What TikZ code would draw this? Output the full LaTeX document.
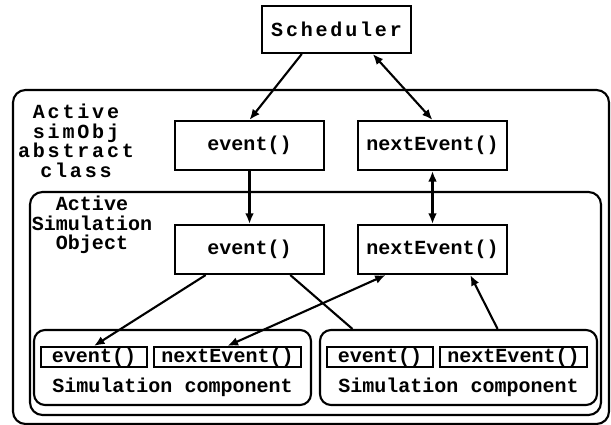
\documentclass[tikz,border=0pt]{standalone}
\usepackage{fontspec}
\setmainfont{Liberation Mono}
\newfontfamily\wideMono{Liberation Mono}[LetterSpace=14]
\usepackage{tikz}
\usetikzlibrary{calc,arrows.meta}

\newcommand{\diagText}{\bfseries\fontsize{11.4}{11.1}\selectfont}
\newcommand{\diagTitle}{\wideMono\bfseries\fontsize{11.4}{11.1}\selectfont}

\tikzset{
 method/.style = {draw, line width=1.2pt, minimum width=2.98cm,
   minimum height=0.98cm, inner sep=0pt, font=\diagText},
 smallMethod/.style = {draw, line width=1.2pt, minimum height=0.4cm,
   inner sep=0pt, font=\diagText},
 compBox/.style = {draw, line width=1.2pt, rounded corners=0.22cm,
   minimum width=5.54cm, minimum height=1.5cm, inner sep=0pt},
 frame/.style = {line width=1.2pt, rounded corners=0.25cm},
 tagText/.style = {align=center, inner sep=0pt, font=\diagText},
 classTag/.style = {align=center, inner sep=0pt, font=\diagTitle},
 call/.style = {line width=1.2pt, -{Latex[length=6pt,width=5pt]}},
 twoway/.style = {line width=1.2pt,
   {Latex[length=6pt,width=5pt]}-{Latex[length=6pt,width=5pt]}}
}

% one simulation component: frame, its two methods and the caption
\newcommand{\simComponent}[2]{
    \node[compBox] (#1) at #2 {};
    \node[smallMethod, minimum width=2.12cm] (#1_ev) at ($#2 + (-1.57, 0.21)$) {event()};
    \node[smallMethod, minimum width=2.93cm] (#1_nx) at ($#2 + (1.10, 0.21)$) {nextEvent()};
    \node[tagText] (#1_cap) at ($#2 + (0, -0.39)$) {Simulation component};
}

\begin{document}
\begin{tikzpicture}
    \useasboundingbox (0, 0) rectangle (12.22, 8.5);

    % abstract class and simulation object frames
    \draw[frame] (0.26, 0.02) rectangle (12.18, 6.70);
    \draw[frame] (0.60, 0.20) rectangle (12.02, 4.66);
    \node[classTag] (absTag) at (1.52, 5.68) {Active\\simObj\\abstract\\class};
    \node[tagText] (objTag) at (1.84, 4.0) {Active\\Simulation\\Object};

    \node[method, minimum height=0.94cm, font=\diagTitle] (sched) at (6.73, 7.91) {Scheduler};
    \node[method] (absEvent) at (4.99, 5.59) {event()};
    \node[method] (absNext) at (8.65, 5.59) {nextEvent()};
    \node[method] (objEvent) at (4.99, 3.51) {event()};
    \node[method] (objNext) at (8.65, 3.51) {nextEvent()};

    \simComponent{compA}{(3.45, 1.15)}
    \simComponent{compB}{(9.17, 1.15)}

    \draw[call] ($(sched.south west)!0.27!(sched.south east)$) -- (absEvent.north);
    \draw[twoway] ($(sched.south west)!0.74!(sched.south east)$) -- (absNext.north);
    \draw[call] (absEvent.south) -- (objEvent.north);
    \draw[twoway] (absNext.south) -- (objNext.north);

    \draw[call] ($(objEvent.south west)!0.21!(objEvent.south east)$) -- (compA_ev.north);
    \draw[line width=1.2pt] ($(objEvent.south west)!0.77!(objEvent.south east)$)
        -- ($(compB.north west)!0.12!(compB.north east)$);
    \draw[twoway] (compA_nx.north) -- ($(objNext.south west)!0.19!(objNext.south east)$);
    \draw[call] ($(compB.north west)!0.64!(compB.north east)$)
        -- ($(objNext.south west)!0.75!(objNext.south east)$);
\end{tikzpicture}
\end{document}
